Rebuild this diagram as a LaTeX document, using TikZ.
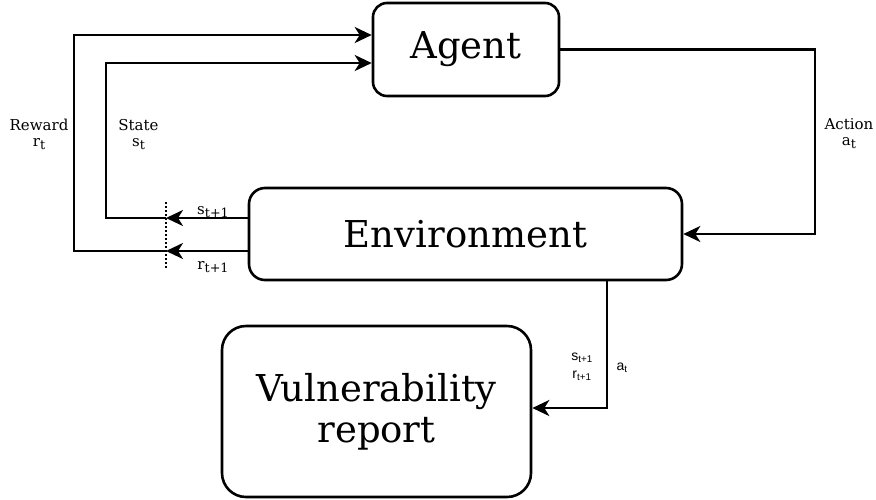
\documentclass[tikz,border=0pt]{standalone}
\usepackage{fontspec}
\setmainfont{DejaVu Serif}
\newfontfamily\labsans{Liberation Sans}
\usetikzlibrary{arrows.meta}
\newcommand\mysub[1]{\raisebox{-0.35ex}{\scalebox{0.85}{#1}}}
\tikzset{
  box/.style={draw, line width=2.6pt, rounded corners=#1, font=\fontsize{37}{41}\selectfont, align=center, inner sep=0pt},
  arr/.style={line width=2.6pt, -{Stealth[length=17pt,width=16pt,inset=5pt]}},
  lab/.style={font=\fontsize{15}{17}\selectfont, inner sep=0pt},
  slab/.style={font=\labsans\fontsize{14}{16}\selectfont, inner sep=0pt}
}
\begin{document}
\begin{tikzpicture}[x=1pt,y=-1pt]
\useasboundingbox (0,0) rectangle (876,499);
\node[box=14pt, minimum width=186pt, minimum height=93pt] (agent) at (466,49.5) {Agent};
\node[box=16pt, minimum width=433pt, minimum height=92pt] (env) at (465.5,234) {Environment};
\node[box=24pt, minimum width=309pt, minimum height=171pt] (vuln) at (376.5,411.5) {Vulnerability\\report};
% action loop
\coordinate (actx) at (815,49.5);
\draw[arr] (agent.east) -- (actx) |- (env.east);
\node[lab] (action) at (849,124) {Action};
\node[lab] (at) at (849,143) {a\mysub{t}};
% feedback arrows
\coordinate (d1) at (166,218);
\coordinate (d2) at (166,251);
\coordinate (dtop) at (166,202);
\coordinate (dbot) at (166,268);
\draw[arr] (env.west |- d1) -- (d1);
\draw[arr] (env.west |- d2) -- (d2);
\draw[line width=1.3pt, dash pattern=on 2pt off 2pt] (dtop) -- (dbot);
\coordinate (sx) at (106,63);
\coordinate (rx) at (74,35);
\draw[arr] (d1) -| (sx) -- (agent.west |- sx);
\draw[arr] (d2) -| (rx) -- (agent.west |- rx);
\node[lab] (stnext) at (213,212) {s\mysub{t+1}};
\node[lab] (rtnext) at (213,267) {r\mysub{t+1}};
\node[lab] (reward) at (39,125) {Reward};
\node[lab] (rt) at (39,144) {r\mysub{t}};
\node[lab] (state) at (138.5,125) {State};
\node[lab] (st) at (138.5,144) {s\mysub{t}};
% report arrow
\coordinate (bx) at (607,408);
\draw[arr] (env.south -| bx) -- (bx) -- (vuln.east |- bx);
\node[slab] (bs) at (582,358) {s\textsubscript{t+1}};
\node[slab] (br) at (582,376) {r\textsubscript{t+1}};
\node[slab] (ba) at (622,368) {a\textsubscript{t}};
\end{tikzpicture}
\end{document}
